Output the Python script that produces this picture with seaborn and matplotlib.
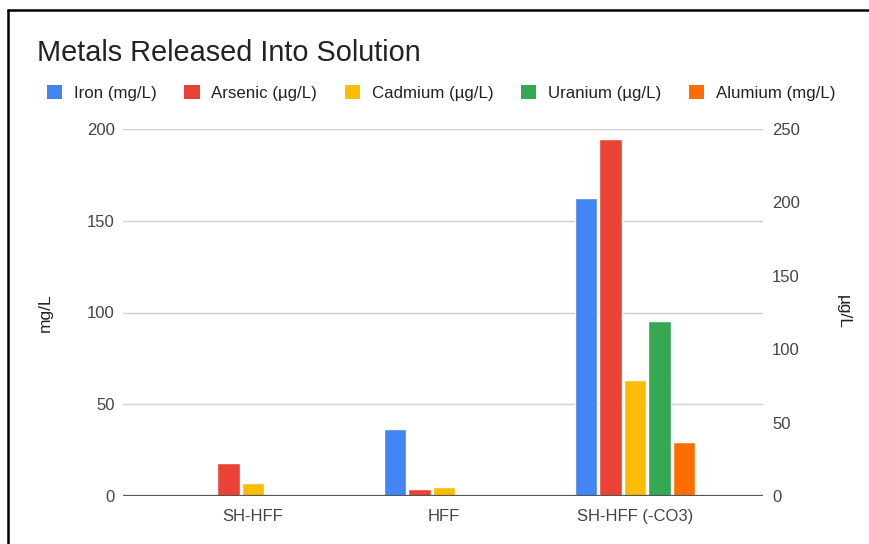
import numpy as np
import pandas as pd
import seaborn as sns
import matplotlib.pyplot as plt
from matplotlib.lines import Line2D
from matplotlib.patches import Patch

# Sample groups and measured concentrations
samples = ["SH-HFF", "HFF", "SH-HFF (-CO3)"]
series = ["Iron (mg/L)", "Arsenic (µg/L)", "Cadmium (µg/L)", "Uranium (µg/L)", "Alumium (mg/L)"]
units = ["mg", "ug", "ug", "ug", "mg"]
iron_mg = [np.nan, 36.3, 162.2]
arsenic_ug = [22.7, 5.0, 243.0]
cadmium_ug = [8.6, 5.9, 79.0]
uranium_ug = [np.nan, np.nan, 119.5]
alumium_mg = [np.nan, np.nan, 29.2]
colors = ["#4285F4", "#EA4335", "#FBBC04", "#34A853", "#FF6D01"]
mg_ticks = [0, 50, 100, 150, 200]
ug_ticks = [0, 50, 100, 150, 200, 250]

values = [iron_mg, arsenic_ug, cadmium_ug, uranium_ug, alumium_mg]
rows = []
for name, unit, vals in zip(series, units, values):
    for s, v in zip(samples, vals):
        rows.append({"sample": s, "metal": name, "unit": unit, "value": v})
df = pd.DataFrame(rows).dropna()

sns.set_theme(style="white")
plt.rcParams["font.family"] = ["Liberation Sans", "DejaVu Sans"]

fig = plt.figure(figsize=(8.7, 5.44), dpi=100)
ax = fig.add_axes([123 / 870, 1 - 496 / 544, 640 / 870, 367 / 544])
ax2 = ax.twinx()

common = dict(x="sample", y="value", hue="metal", order=samples, hue_order=series,
              palette=colors, dodge=True, width=0.64, gap=0.07, legend=False,
              saturation=1, errorbar=None)
sns.barplot(data=df[df["unit"] == "mg"], ax=ax, **common)
sns.barplot(data=df[df["unit"] == "ug"], ax=ax2, **common)

for a in (ax, ax2):
    a.set_xlim(-0.68, 2.67)
    for sp in a.spines.values():
        sp.set_visible(False)
    a.set_xlabel("")
    a.tick_params(length=0, colors="#444444", labelsize=12)

ax.set_ylim(0, 200)
ax.set_yticks(mg_ticks)
ax2.set_ylim(0, 250)
ax2.set_yticks(ug_ticks)
ax.tick_params(axis="y", pad=6)
ax2.tick_params(axis="y", pad=6.5)
ax.tick_params(axis="x", pad=9.5)
ax2.tick_params(axis="x", labelbottom=False)

ax.yaxis.grid(True, color="#d0d0d0", lw=1)
ax.set_axisbelow(True)
ax2.axhline(0, color="#555555", lw=1.6, zorder=5)

ax.set_ylabel("mg/L", fontsize=12.5, color="#222222", ha="center", va="center")
ax.yaxis.set_label_coords((45 - 123) / 640, 0.5)
ax2.set_ylabel("µg/L", fontsize=12.5, color="#222222", rotation=270, ha="center", va="center")
ax2.yaxis.set_label_coords((843 - 123) / 640, 0.5)

fig.text(37 / 870, 1 - 61 / 544, "Metals Released Into Solution", fontsize=20.8,
         color="#222222", va="baseline", ha="left")

handles = [Patch(facecolor=c, edgecolor="none") for c in colors]
fig.legend(handles, series, loc="center left", bbox_to_anchor=(47 / 870, 1 - 93 / 544),
           ncol=5, frameon=False, fontsize=12.2, handlelength=0.9, handleheight=0.9,
           handletextpad=0.7, columnspacing=1.62, labelcolor="#222222",
           borderpad=0, borderaxespad=0)

# Frame edges along the top and left of the canvas
fig.add_artist(Line2D([8 / 870, 8 / 870], [0, 1 - 10 / 544], color="black", lw=1.8,
                      transform=fig.transFigure))
fig.add_artist(Line2D([8 / 870, 1], [1 - 10 / 544, 1 - 10 / 544], color="black", lw=1.8,
                      transform=fig.transFigure))

fig.savefig("out.png", dpi=100, facecolor="white")
